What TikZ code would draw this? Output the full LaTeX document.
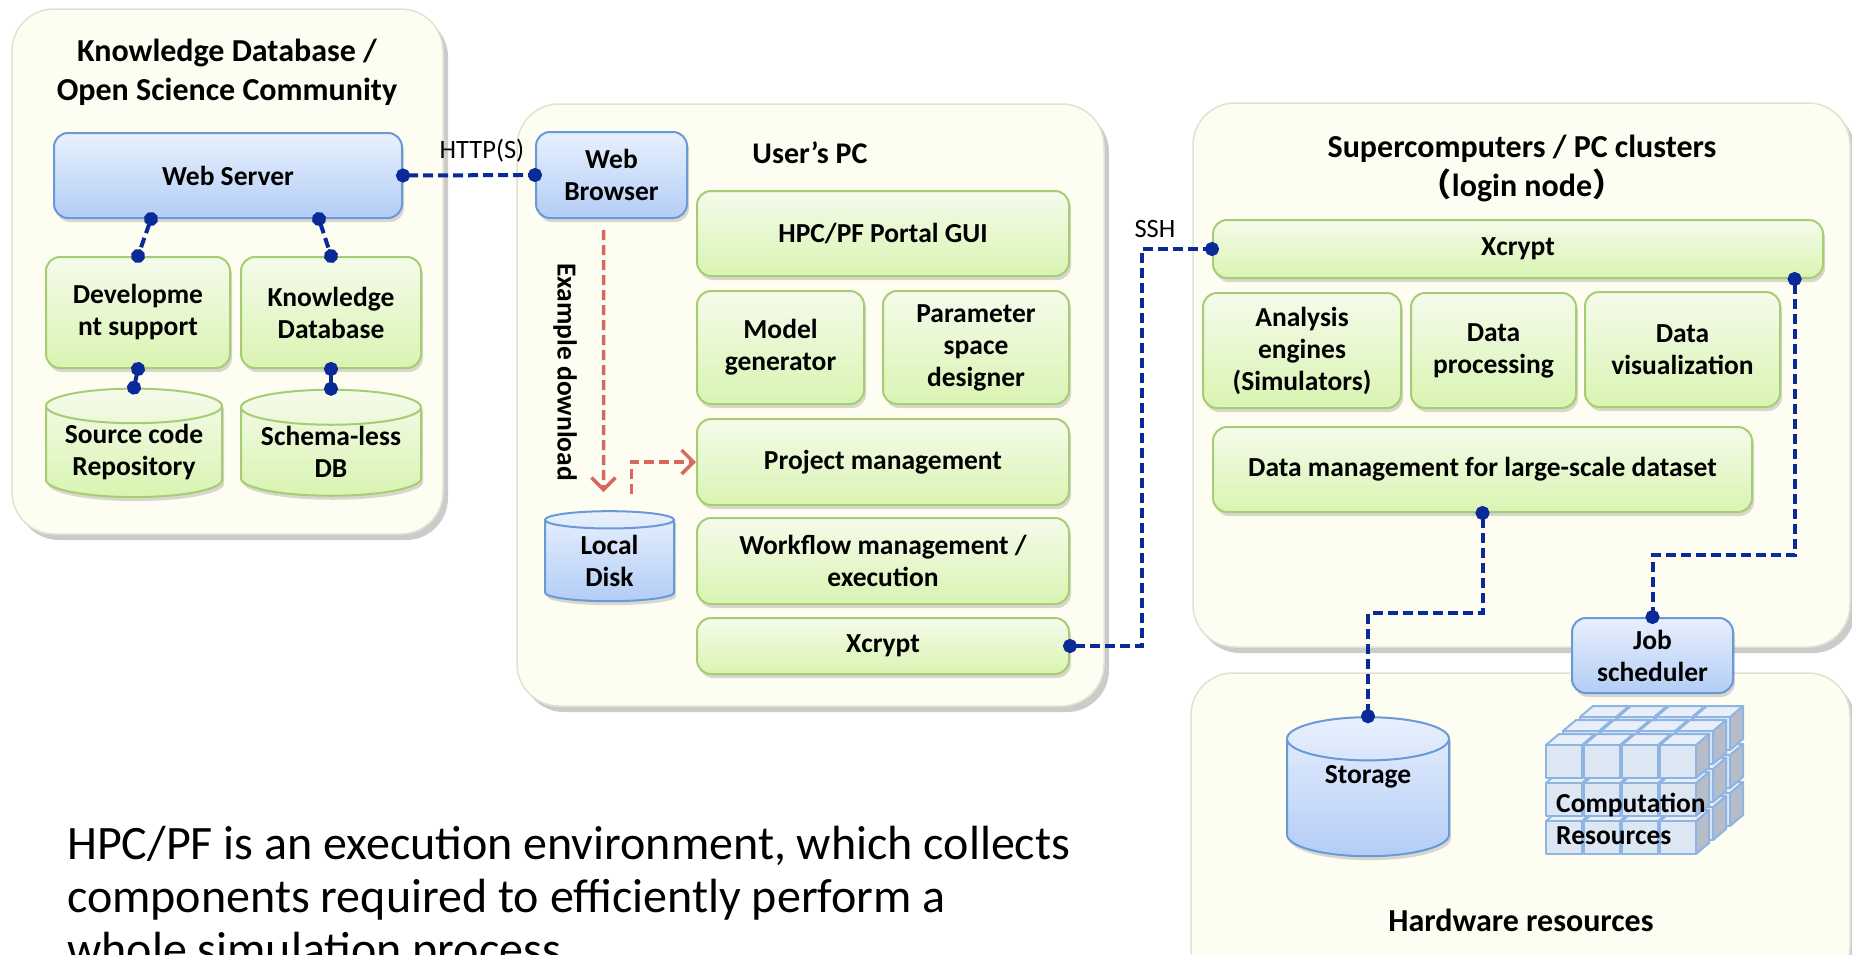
\documentclass[tikz,border=0pt]{standalone}
\usepackage{fontspec}
\setmainfont{Carlito}
\newfontfamily\cjk{Noto Sans CJK JP}
\usetikzlibrary{positioning,fit,calc,shapes.geometric,arrows.meta,shadows}

\definecolor{panelbg}{HTML}{FDFDF1}
\definecolor{panelrule}{HTML}{E2E2D2}
\definecolor{greentop}{HTML}{F5FBEB}
\definecolor{greenbot}{HTML}{D9F4B2}
\definecolor{greenrule}{HTML}{A7CD74}
\definecolor{bluetop}{HTML}{E8F0FD}
\definecolor{bluebot}{HTML}{B3CDF6}
\definecolor{bluerule}{HTML}{6A9AD6}
\definecolor{linkblue}{HTML}{0A2A98}
\definecolor{dlred}{HTML}{D8675D}
\definecolor{cubefront}{HTML}{DDE6F3}
\definecolor{cubetop}{HTML}{E9EFF8}
\definecolor{cubeside}{HTML}{B6BDC8}
\definecolor{cuberule}{HTML}{8EB4E3}

\newcommand{\cellfont}{\bfseries\fontsize{27.5}{32}\selectfont}
\newcommand{\paneltitlefont}{\bfseries\fontsize{32}{39}\selectfont}
\newcommand{\linkfont}{\fontsize{26.5}{30}\selectfont}
\newcommand{\notefont}{\fontsize{48}{53}\selectfont}

\tikzset{
	panel/.style={draw=panelrule, line width=1.5pt, fill=panelbg, rounded corners=42pt, inner sep=0pt,
		drop shadow={shadow xshift=5pt, shadow yshift=-6pt, opacity=.45, fill=black!45}},
	paneltitle/.style={align=center, font=\paneltitlefont, inner sep=0pt},
	boxsize/.style 2 args={minimum width=#1pt, minimum height=#2pt},
	part/.style={draw=greenrule, line width=2pt, top color=greentop, bottom color=greenbot,
		rounded corners=14pt, inner sep=0pt, align=center, font=\cellfont,
		drop shadow={shadow xshift=2pt, shadow yshift=-4pt, opacity=.3}},
	bluepart/.style={part, draw=bluerule, top color=bluetop, bottom color=bluebot},
	disk/.style={cylinder, shape border rotate=90, draw=bluerule, line width=2pt,
		top color=bluetop, bottom color=bluebot, inner sep=0pt, align=center, font=\cellfont,
		drop shadow={shadow xshift=2pt, shadow yshift=-4pt, opacity=.3}},
	greendisk/.style={disk, draw=greenrule, top color=greentop, bottom color=greenbot},
	link/.style={draw=linkblue, line width=4pt, dash pattern=on 10pt off 5pt,
		{Circle[length=14pt]}-{Circle[length=14pt]}, shorten <=-7pt, shorten >=-7pt},
	dlarrow/.style={draw=dlred, line width=3.5pt, dash pattern=on 10pt off 5pt,
		-{Straight Barb[length=12pt, width=24pt]}},
	cubeface/.style={draw=cuberule, line width=2pt, line join=round},
	linktag/.style={font=\linkfont, inner sep=0pt},
	note/.style={font=\notefont, align=left, inner sep=0pt}
}

\begin{document}
\begin{tikzpicture}[x=1pt, y=-1pt]
	\useasboundingbox (0,0) rectangle (1852,954);
	\clip (0,0) rectangle (1852,954);

	\node[panel, fit={(12,9) (443,534)}] (kdb) {};
	\node[panel, fit={(517,104) (1104,706)}] (upc) {};
	\node[panel, fit={(1193,103) (1850,647)}] (spc) {};
	\node[panel, fit={(1191,673) (1850,990)}] (hw) {};

	\node[paneltitle] (kdbtitle) at (227,72) {Knowledge Database /\\Open Science Community};
	\node[paneltitle, font=\bfseries\fontsize{30}{36}\selectfont] (upctitle) at (810,153) {User’s PC};
	\node[paneltitle] (spctitle) at (1522,168) {Supercomputers / PC clusters\\{\cjk （}login node{\cjk ）}};
	\node[paneltitle] (hwtitle) at (1521,920) {Hardware resources};

	% knowledge database side
	\node[bluepart, boxsize={348}{85}] (websrv) at (228,175.5) {Web Server};
	\node[part, boxsize={184}{111}] (devsup) at (138,312.5) {Developme\\nt support};
	\node[part, boxsize={180}{111}] (kdbase) at (331,312.5) {Knowledge\\Database};
	\node[greendisk, minimum width=176pt, minimum height=106pt, aspect=.25] (srcrepo) at (134,452) {Source code\\Repository};
	\node[greendisk, minimum width=180pt, minimum height=106pt, aspect=.25] (schemadb) at (331,452) {Schema-less\\DB};

	% user's pc
	\node[bluepart, boxsize={151}{86}] (browser) at (611.5,175) {Web\\Browser};
	\node[part, boxsize={372}{85}] (portal) at (883,233.5) {HPC/PF Portal GUI};
	\node[part, boxsize={167}{113}] (modelgen) at (780.5,347.5) {Model\\generator};
	\node[part, boxsize={186}{113}] (paramdes) at (976,347.5) {Parameter\\space\\designer};
	\node[part, boxsize={372}{86}] (projmgmt) at (883,462) {Project management};
	\node[part, boxsize={372}{86}] (wfmgmt) at (883,561) {Workflow management /\\execution};
	\node[part, boxsize={372}{56}] (xcuser) at (883,646) {Xcrypt};
	\node[disk, minimum width=129pt, minimum height=90pt, aspect=.3] (localdisk) at (609.5,561) {Local\\Disk};
	\node[rotate=-90, font=\cellfont] (dltext) at (565,372) {Example download};

	% cluster side
	\node[part, boxsize={610}{58}] (xcclus) at (1518,249) {Xcrypt};
	\node[part, boxsize={198}{115}] (anaeng) at (1302,350.5) {Analysis\\engines\\(Simulators)};
	\node[part, boxsize={165}{115}] (dataproc) at (1493.5,350.5) {Data\\processing};
	\node[part, boxsize={195}{115}] (datavis) at (1682.5,349.5) {Data\\visualization};
	\node[part, boxsize={539}{85}] (datamgmt) at (1482.5,469.5) {Data management for large-scale dataset};
	\node[bluepart, boxsize={161}{75}] (jobsch) at (1652.5,655.5) {Job\\scheduler};
	\node[disk, minimum width=162pt, minimum height=139pt, aspect=.5] (storage) at (1368,798) {\raisebox{21pt}[\height][\depth]{Storage}};

	\foreach \l in {2,1,0}
		\foreach \r in {2,1,0}
			\foreach \c in {0,...,3}{
				\coordinate (cb) at ({1546+38*\c+17*\l},{745+38*\r-14*\l});
				\filldraw[cubeface, fill=cubeside] ([shift={(36,0)}]cb) -- ++(13,-11) -- ++(0,33) -- ++(-13,11) -- cycle;
				\filldraw[cubeface, fill=cubetop] (cb) -- ++(13,-11) -- ++(36,0) -- ++(-13,11) -- cycle;
				\filldraw[cubeface, fill=cubefront] (cb) rectangle ++(36,33);
			}
	\node[anchor=west, align=left, font=\cellfont, inner sep=0pt] (compres) at (1556,819) {Computation\\Resources};

	% connectors
	\draw[link] (websrv.east) -- (browser.west);
	\draw[link] ($(websrv.south west)!.28!(websrv.south east)$) -- (devsup.north);
	\draw[link] ($(websrv.south west)!.76!(websrv.south east)$) -- (kdbase.north);
	\draw[link] (devsup.south) -- (srcrepo.north);
	\draw[link] (kdbase.south) -- (schemadb.north);
	\draw[link] (xcuser.east) -- ++(72,0) |- (xcclus.west);
	\draw[link] ($(xcclus.south west)!.952!(xcclus.south east)$) -- ++(0,276) -| (jobsch.north);
	\draw[link] (datamgmt.south) -- ++(0,100) -| (storage.north);
	\draw[dlarrow] ([shift={(-8,11)}]browser.south) -- ([shift={(-6,-18)}]localdisk.north);
	\draw[dlarrow] ([shift={(22,-16)}]localdisk.north) |- (projmgmt.west);

	\node[linktag] (httptag) at (482,151) {HTTP(S)};
	\node[linktag] (sshtag) at (1155,229) {SSH};

	\node[note, anchor=north west] (note) at (67,826) {HPC/PF is an execution environment, which collects\\components required to efficiently perform a\\whole simulation process};
\end{tikzpicture}
\end{document}
